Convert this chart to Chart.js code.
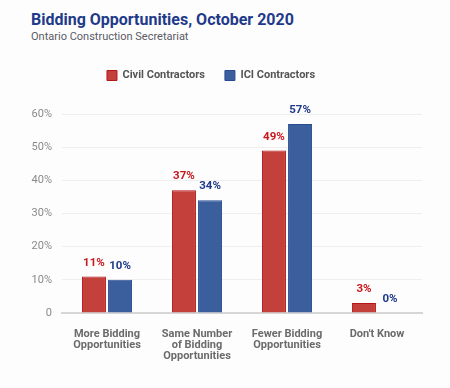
<!DOCTYPE html>
<html lang="en">
<head>
    <meta charset="UTF-8">
    <title>Bidding Opportunities</title>
    <script src="https://cdn.jsdelivr.net/npm/chart.js"></script>
    <style>
        body {
            margin: 0;
            background: #fdfdfd;
            font-family: Roboto, sans-serif;
            width: 450px;
            height: 388px;
            position: relative;
            overflow: hidden;
        }
        .title {
            position: absolute;
            left: 31px;
            top: 10px;
            font-size: 16px;
            font-weight: 700;
            color: #1f3a8a;
        }
        .subtitle {
            position: absolute;
            left: 31px;
            top: 30px;
            font-size: 11px;
            color: #5a5a66;
        }
        .chart-box {
            position: absolute;
            left: 0;
            top: 50px;
            width: 450px;
            height: 338px;
        }
    </style>
</head>
<body>
    <div class="title">Bidding Opportunities, October 2020</div>
    <div class="subtitle">Ontario Construction Secretariat</div>
    <div class="chart-box"><canvas id="chart"></canvas></div>

    <script>
        const categories = [
            ['More Bidding', 'Opportunities'],
            ['Same Number', 'of Bidding', 'Opportunities'],
            ['Fewer Bidding', 'Opportunities'],
            ["Don't Know"]
        ];
        const civil = [11, 37, 49, 3];
        const ici = [10, 34, 57, 0];

        const colors = {
            red: '#c4403b',
            redEdge: '#b3151b',
            redText: '#c8181e',
            blue: '#3a5f9c',
            blueEdge: '#2a4b92',
            blueText: '#1f3a8a'
        };

        // value labels above each bar
        const barLabels = {
            id: 'barLabels',
            afterDatasetsDraw(chart) {
                const ctx = chart.ctx;
                ctx.save();
                ctx.font = 'bold 11.5px Roboto';
                ctx.textAlign = 'center';
                ctx.textBaseline = 'bottom';
                chart.data.datasets.forEach((ds, i) => {
                    ctx.fillStyle = i === 0 ? colors.redText : colors.blueText;
                    chart.getDatasetMeta(i).data.forEach((bar, j) => {
                        ctx.fillText(ds.data[j] + '%', bar.x, bar.y - 8);
                    });
                });
                ctx.restore();
            }
        };

        // extra room under the legend
        const legendGap = {
            id: 'legendGap',
            beforeInit(chart) {
                const fit = chart.legend.fit;
                chart.legend.fit = function () {
                    fit.bind(chart.legend)();
                    this.height += 23;
                };
            }
        };

        new Chart(document.getElementById('chart'), {
            type: 'bar',
            data: {
                labels: categories,
                datasets: [{
                    label: 'Civil Contractors',
                    data: civil,
                    backgroundColor: colors.red,
                    borderColor: colors.redEdge,
                    borderWidth: 1
                }, {
                    label: 'ICI Contractors',
                    data: ici,
                    backgroundColor: colors.blue,
                    borderColor: colors.blueEdge,
                    borderWidth: 1
                }]
            },
            options: {
                responsive: true,
                maintainAspectRatio: false,
                animation: false,
                layout: { padding: { left: 0, right: 28, top: 0, bottom: 0 } },
                datasets: { bar: { categoryPercentage: 0.58, barPercentage: 0.92 } },
                plugins: {
                    legend: {
                        position: 'top',
                        labels: {
                            boxWidth: 10,
                            boxHeight: 10,
                            padding: 20,
                            color: '#555',
                            font: { family: 'Roboto', size: 11, weight: 'bold' }
                        }
                    },
                    tooltip: { enabled: false }
                },
                scales: {
                    x: {
                        grid: { display: false },
                        border: { display: true, color: '#d6d6d6', width: 2 },
                        ticks: {
                            padding: 8,
                            color: '#6b6b6b',
                            font: { family: 'Roboto', size: 11, weight: 'bold', lineHeight: 1.0 }
                        },
                        afterFit: s => { s.height = 75; }
                    },
                    y: {
                        min: 0,
                        max: 60,
                        border: { display: false },
                        grid: { color: '#efefef', drawTicks: false },
                        ticks: {
                            stepSize: 10,
                            padding: 10,
                            color: '#8a8a8a',
                            font: { family: 'Roboto', size: 11 },
                            callback: v => v === 0 ? '0' : v + '%'
                        },
                        afterFit: s => { s.width = 62; }
                    }
                }
            },
            plugins: [barLabels, legendGap]
        });
    </script>
</body>
</html>
